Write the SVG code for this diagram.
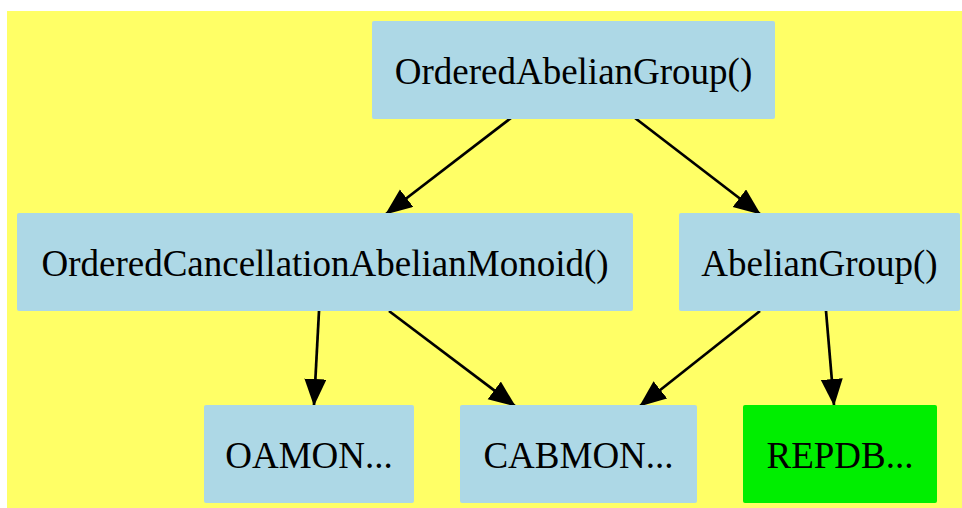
<svg xmlns="http://www.w3.org/2000/svg" width="962" height="508" viewBox="0 0 962 508">
<style>
.node{fill:#add8e6;}
.green{fill:#00ee00;}
text{font-family:'Liberation Serif','Times New Roman',Times,serif;font-size:37px;fill:#000;text-anchor:middle;}
.edge{stroke:#000;stroke-width:2.7;fill:none;marker-end:url(#ah);}
</style>
<defs>
<marker id="ah" markerUnits="userSpaceOnUse" markerWidth="28" markerHeight="23" refX="26" refY="11" orient="auto">
<path d="M0,0 L27,11 L0,22 z" fill="#000"/>
</marker>
</defs>
<rect x="7" y="11" width="955" height="497" fill="#ffff66"/>
<g id="connectors">
<path class="edge" d="M511,118 L386,214"/>
<path class="edge" d="M635,118 L760,214"/>
<path class="edge" d="M319,311 L314,405"/>
<path class="edge" d="M389,311 L515,406"/>
<path class="edge" d="M760,311 L640,406"/>
<path class="edge" d="M826,311 L834,405"/>
</g>
<g id="OrderedAbelianGroup">
<rect class="node" x="372" y="21" width="403" height="98" rx="2"/>
<text x="573.5" y="84">OrderedAbelianGroup()</text>
</g>
<g id="OrderedCancellationAbelianMonoid">
<rect class="node" x="17" y="213" width="616" height="98" rx="2"/>
<text x="325" y="276">OrderedCancellationAbelianMonoid()</text>
</g>
<g id="AbelianGroup">
<rect class="node" x="679" y="213" width="281" height="98" rx="2"/>
<text x="819.5" y="276">AbelianGroup()</text>
</g>
<g id="OAMON">
<rect class="node" x="204" y="405" width="210" height="98" rx="2"/>
<text x="309" y="468">OAMON...</text>
</g>
<g id="CABMON">
<rect class="node" x="460" y="405" width="237" height="98" rx="2"/>
<text x="578.5" y="468">CABMON...</text>
</g>
<g id="REPDB">
<rect class="green" x="743" y="405" width="194" height="98" rx="2"/>
<text x="840" y="468">REPDB...</text>
</g>
</svg>
